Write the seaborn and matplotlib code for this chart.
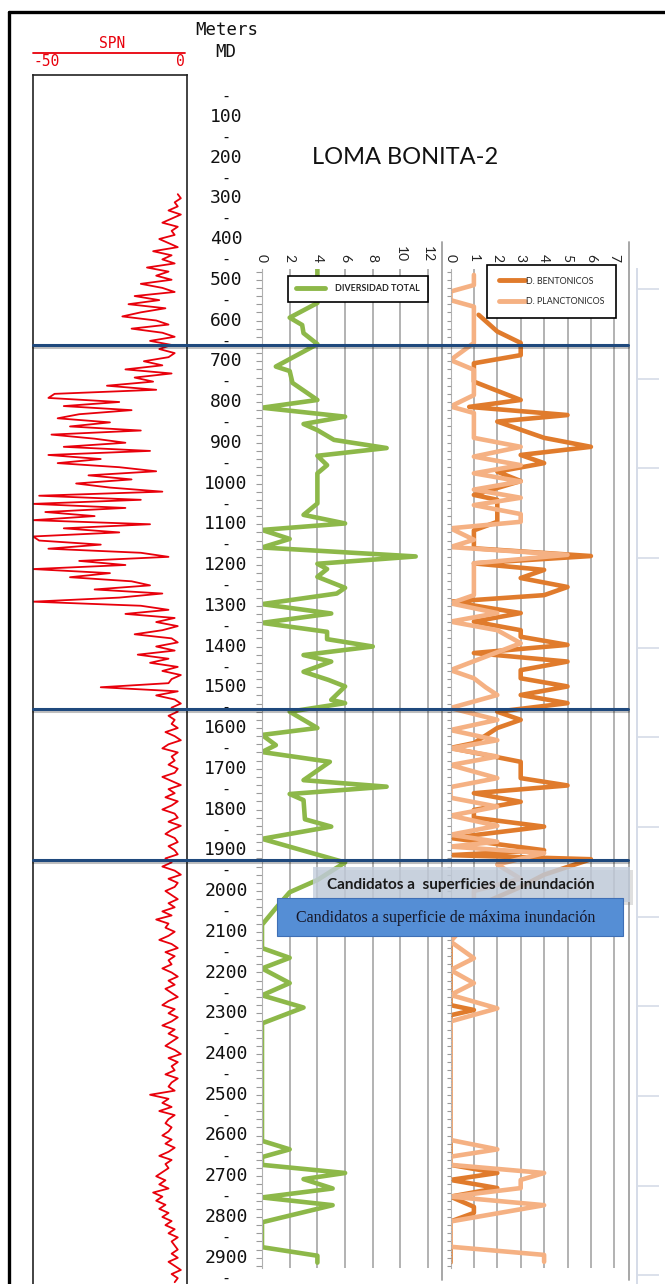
"""Loma Bonita-2 well log: SPN curve, depth track and fossil diversity tracks."""

import numpy as np
import matplotlib
matplotlib.use("Agg")
import matplotlib.pyplot as plt
import seaborn as sns
from matplotlib import transforms
from matplotlib.lines import Line2D
from matplotlib.patches import Rectangle
import matplotlib.patheffects as pe

# ---- figure geometry (pixels of the original panel) ----
W, H = 665, 1284
PX_PER_M = 0.4075     # vertical scale of the depth track
Y_ZERO = 76           # pixel row of 0 m

# ---- data ----
TITLE = "LOMA BONITA-2"
DEPTH_LABELS = list(range(100, 3000, 100))
DASH_DEPTHS = list(range(50, 3000, 100))
FLOOD_SURFACES = [660, 1553, 1924]

SPN_START = 290
SPN_STEP = 10
spn_values = [
    -3, -2, -4, -3, -6, -2, -5, -8, -3, -5,
    -4, -9, -6, -3, -11, -5, -8, -4, -13, -6,
    -10, -5, -15, -8, -4, -17, -9, -19, -7, -15,
    -21, -10, -6, -18, -8, -4, -12, -5, -9, -4,
    -6, -14, -8, -20, -5, -17, -11, -26, -10, -43,
    -45, -22, -40, -18, -35, -42, -25, -38, -15, -44,
    -30, -20, -40, -12, -45, -28, -42, -22, -10, -32,
    -18, -36, -25, -8, -48, -15, -50, -20, -46, -30,
    -50, -12, -40, -22, -50, -48, -28, -45, -15, -6,
    -35, -20, -50, -25, -38, -18, -12, -30, -8, -22,
    -50, -15, -6, -20, -4, -10, -3, -8, -17, -5,
    -3, -10, -4, -16, -6, -12, -3, -8, -2, -5,
    -6, -28, -3, -10, -4, -2, -5, -3, -6, -4,
    -5, -3, -7, -4, -2, -6, -8, -3, -5, -4,
    -6, -3, -4, -8, -5, -2, -6, -4, -7, -3,
    -5, -8, -4, -3, -6, -2, -5, -7, -4, -3,
    -6, -4, -3, -7, -5, -8, -4, -2, -6, -3,
    -4, -7, -5, -3, -6, -4, -8, -5, -10, -6,
    -7, -4, -6, -9, -5, -3, -7, -4, -6, -5,
    -8, -5, -3, -6, -4, -7, -5, -3, -6, -8,
    -4, -6, -3, -5, -8, -4, -6, -3, -5, -7,
    -4, -2, -6, -3, -5, -4, -7, -3, -5, -6,
    -4, -12, -6, -8, -5, -9, -4, -6, -7, -5,
    -6, -8, -5, -7, -4, -6, -9, -5, -7, -6,
    -8, -10, -7, -9, -6, -11, -8, -10, -7, -9,
    -6, -8, -5, -7, -4, -6, -3, -5, -4, -3,
    -5, -3, -6, -4, -2, -5, -3, -4,
]
spn_depth = SPN_START + SPN_STEP * np.arange(len(spn_values))

div_depth = [474, 557, 593, 611, 631, 658, 713, 724, 753, 795,
             814, 836, 854, 869, 893, 913, 932, 955, 975, 1049,
             1077, 1098, 1114, 1136, 1157, 1179, 1197, 1210, 1229, 1256,
             1270, 1296, 1319, 1342, 1364, 1382, 1400, 1421, 1437, 1462,
             1482, 1498, 1531, 1539, 1560, 1600, 1617, 1642, 1659, 1683,
             1728, 1744, 1762, 1777, 1824, 1842, 1872, 1930, 1973, 2003,
             2042, 2083, 2140, 2164, 2190, 2226, 2256, 2286, 2325, 2613,
             2634, 2653, 2672, 2692, 2707, 2730, 2752, 2771, 2813, 2874,
             2895, 2912]
div_value = [4, 4, 2, 2.9, 3, 4, 1, 2, 2.2, 4,
             0, 6, 3, 4, 5.2, 9, 4, 4.7, 4, 4,
             3, 6, 0, 2, 0, 11.1, 4, 4.7, 4, 6,
             5.4, 0, 5, 0, 4.7, 4.7, 8, 3, 5, 3,
             4.8, 6, 5, 6, 2, 4, 0, 1, 0, 4.9,
             3, 9, 2, 3, 3.1, 5, 0, 6, 4, 2,
             1, 0, 0, 2, 0, 2, 0, 3, 0, 0,
             2, 0, 0, 6, 3, 5.1, 0, 5.1, 0, 0,
             4, 4]

bent_depth = [586, 627, 655, 685, 705, 750, 795, 812, 832, 848,
              888, 910, 930, 950, 971, 994, 1028, 1040, 1073, 1094,
              1115, 1159, 1178, 1196, 1212, 1232, 1254, 1274, 1290, 1318,
              1339, 1360, 1376, 1396, 1416, 1437, 1458, 1478, 1498, 1519,
              1539, 1560, 1580, 1600, 1637, 1649, 1683, 1723, 1741, 1760,
              1781, 1801, 1820, 1842, 1870, 1900, 1912, 1922, 1960, 1990,
              2040, 2090, 2280, 2292, 2305, 2611, 2672, 2692, 2709, 2729,
              2750, 2775, 2790, 2811, 2912]
bent_value = [1.2, 2, 3, 3, 1, 1, 3, 0.8, 5, 2,
              4, 6, 3, 4, 2, 3, 1, 2, 2, 2,
              1, 1, 6, 1, 4, 3, 5, 4, 0, 3,
              1, 3, 3, 5, 1, 5, 3, 3, 5, 3,
              5, 2, 3, 2, 1, 0, 3, 3, 5, 1,
              3, 1, 1, 4, 0, 4, 0, 6, 4, 3,
              1, 0, 0, 1, 0, 0, 0, 2, 0, 2,
              0, 1, 1, 0, 0]

planc_depth = [488, 513, 529, 550, 566, 655, 697, 721, 783, 811,
               827, 888, 910, 934, 955, 975, 995, 1015, 1035, 1053,
               1075, 1094, 1110, 1138, 1156, 1175, 1196, 1274, 1294, 1318,
               1339, 1360, 1392, 1458, 1478, 1500, 1519, 1551, 1580, 1605,
               1630, 1650, 1670, 1691, 1723, 1745, 1771, 1793, 1815, 1840,
               1862, 1879, 1891, 1907, 1935, 1970, 2000, 2060, 2124, 2165,
               2194, 2226, 2255, 2288, 2320, 2611, 2634, 2652, 2672, 2692,
               2709, 2729, 2750, 2771, 2811, 2873, 2893, 2910]
planc_value = [1, 1, 0, 0, 1, 1, 0, 1, 1, 0,
               1, 1, 3, 1, 3, 1, 3, 1, 3, 1,
               3, 3, 0, 1, 0, 5, 1, 1, 0, 2,
               0, 2, 3, 0, 1, 1.5, 2, 0, 2, 0,
               2, 0, 2, 0, 2, 0, 0, 2, 0, 2,
               0, 2, 0, 4, 2, 3, 1, 1, 0, 1,
               0, 1, 0, 2, 0, 0, 2, 0, 0, 4,
               3, 3, 0, 4, 0, 0, 4, 4]

# ---- colours ----
RED = "#E8000B"
GREEN = "#8DB849"
DARK_ORANGE = "#E07B2C"
LIGHT_ORANGE = "#F5B183"
NAVY = "#1F497D"
GRID = "#A5A5A5"

sns.set_style("white")
plt.rcParams["font.family"] = ["Lato", "DejaVu Sans"]
MONO = "DejaVu Sans Mono"


def rect(left, top, right, bottom):
    """Axes rectangle in figure fractions from pixel edges."""
    return [left / W, 1 - bottom / H, (right - left) / W, (bottom - top) / H]


def depth_range(top, bottom):
    """Inverted depth limits that keep every track on one depth scale."""
    return ((bottom - Y_ZERO) / PX_PER_M, (top - Y_ZERO) / PX_PER_M)


def fig_xy(x, y):
    return x / W, 1 - y / H


fig = plt.figure(figsize=(W / 100, H / 100), dpi=100)

# ---- SPN track ----
ax_spn = fig.add_axes(rect(33, 75, 187, 1295))
sns.lineplot(x=spn_values, y=spn_depth, sort=False, estimator=None,
             color=RED, lw=1.3, ax=ax_spn)
ax_spn.set_xlim(-50, 0)
ax_spn.set_ylim(*depth_range(75, 1295))
ax_spn.set_xticks([])
ax_spn.set_yticks([])
ax_spn.set_xlabel("")
ax_spn.set_ylabel("")
for sp in ax_spn.spines.values():
    sp.set_color("#222222")
    sp.set_linewidth(1.2)

fig.text(*fig_xy(112, 44), "SPN", color=RED, family=MONO, fontsize=10.5,
         ha="center", va="center")
fig.add_artist(Line2D([33 / W, 185 / W], [1 - 53 / H] * 2, color=RED, lw=1.3))
fig.text(*fig_xy(34, 62), "-50", color=RED, family=MONO, fontsize=10.5,
         ha="left", va="center")
fig.text(*fig_xy(185, 62), "0", color=RED, family=MONO, fontsize=10.5,
         ha="right", va="center")

# ---- depth track ----
ax_depth = fig.add_axes(rect(190, 75, 262, 1295))
ax_depth.set_ylim(*depth_range(75, 1295))
ax_depth.axis("off")
ytrans = ax_depth.get_yaxis_transform()
for d in DEPTH_LABELS:
    ax_depth.text(0.5, d, str(d), transform=ytrans, family=MONO, fontsize=13,
                  ha="center", va="center", color="#111111")
for d in DASH_DEPTHS:
    ax_depth.text(0.5, d, "-", transform=ytrans, family=MONO, fontsize=11,
                  ha="center", va="center", color="#111111")
fig.text(*fig_xy(227, 30), "Meters", family=MONO, fontsize=12.5,
         ha="center", va="center", color="#111111")
fig.text(*fig_xy(226, 52), "MD", family=MONO, fontsize=12.5,
         ha="center", va="center", color="#111111")

fig.text(*fig_xy(405, 157), TITLE, fontsize=17, ha="center", va="center",
         color="#111111")


def style_track(ax, xmax, ticks):
    ax.set_xlim(0, xmax)
    ax.set_ylim(*depth_range(269, 1268))
    ax.set_facecolor("none")
    ax.set_xlabel("")
    ax.set_ylabel("")
    ax.xaxis.set_ticks_position("top")
    ax.set_xticks(ticks)
    ax.set_xticklabels([str(t) for t in ticks], rotation=-90, fontsize=10)
    ax.tick_params(axis="x", length=0, pad=5, colors="#222222")
    ax.grid(axis="x", color=GRID, lw=1.2)
    ax.grid(axis="y", visible=False)
    ax.set_yticks(np.arange(480, 2925, 20))
    ax.set_yticklabels([])
    ax.tick_params(axis="y", left=True, length=4, width=0.8, color="#9A9A9A")
    for name, sp in ax.spines.items():
        sp.set_visible(name == "left")
    ax.spines["left"].set_color("#B0B0B0")
    ax.spines["left"].set_linewidth(0.8)


# ---- total diversity track ----
ax_div = fig.add_axes(rect(262, 269, 442, 1268))
sns.lineplot(x=div_value, y=div_depth, sort=False, estimator=None,
             color=GREEN, lw=3.3, ax=ax_div, legend=False)
style_track(ax_div, 13, list(range(0, 13, 2)))

leg1 = ax_div.legend(handles=[Line2D([], [], color=GREEN, lw=3.5)],
                     labels=["DIVERSIDAD TOTAL"], loc="upper left",
                     bbox_to_anchor=fig_xy(288, 276),
                     bbox_transform=fig.transFigure, frameon=True,
                     fancybox=False, framealpha=1, edgecolor="black",
                     prop={"family": "Lato", "weight": "bold", "size": 6.4},
                     handlelength=3.2, handletextpad=1.1, borderpad=0.95,
                     borderaxespad=0)
leg1.get_frame().set_linewidth(1.2)

# ---- benthic / planktonic track ----
ax_bp = fig.add_axes(rect(450.5, 269, 629, 1268))
sns.lineplot(x=bent_value, y=bent_depth, sort=False, estimator=None,
             color=DARK_ORANGE, lw=3.3, ax=ax_bp, legend=False)
sns.lineplot(x=planc_value, y=planc_depth, sort=False, estimator=None,
             color=LIGHT_ORANGE, lw=3.3, ax=ax_bp, legend=False)
style_track(ax_bp, (629 - 450.5) / 23.4, list(range(0, 8)))
ax_bp.spines["left"].set_linestyle((0, (1, 1.5)))
ax_bp.tick_params(axis="y", length=3)

leg2 = ax_bp.legend(handles=[Line2D([], [], color=DARK_ORANGE, lw=3.5),
                             Line2D([], [], color=LIGHT_ORANGE, lw=3.5)],
                    labels=["D. BENTONICOS", "D. PLANCTONICOS"],
                    loc="upper left", bbox_to_anchor=fig_xy(487, 265),
                    bbox_transform=fig.transFigure, frameon=True,
                    fancybox=False, framealpha=1, edgecolor="black",
                    prop={"family": "Lato", "size": 6.4},
                    handlelength=3.0, handletextpad=0.1, borderpad=1.3,
                    labelspacing=1.3, borderaxespad=0)
leg2.get_frame().set_linewidth(1.2)

# ---- faint chart edge on the right ----
ax_edge = fig.add_axes(rect(637, 269, 665, 1295))
ax_edge.set_ylim(*depth_range(269, 1295))
ax_edge.set_facecolor("none")
ax_edge.set_xticks([])
ax_edge.set_yticks(np.arange(523, 2964, 220))
ax_edge.set_yticklabels([])
ax_edge.tick_params(axis="y", left=True, direction="in", length=16,
                    width=1.2, color="#D5DCE8")
for name, sp in ax_edge.spines.items():
    sp.set_visible(name == "left")
ax_edge.spines["left"].set_color("#D5DCE8")
ax_edge.spines["left"].set_linewidth(1.4)

# ---- separators and outer frame ----
for x in (442, 629):
    fig.add_artist(Line2D([x / W] * 2, [1 - 242 / H, 1 - 1280 / H],
                          color="#A0A0A0", lw=1.3))
fig.add_artist(Line2D([9 / W, 9 / W], [1 - 12 / H, 0], color="black", lw=2.4))
fig.add_artist(Line2D([9 / W, 1], [1 - 12 / H] * 2, color="black", lw=2.4))

# ---- flooding surfaces ----
surf_trans = transforms.blended_transform_factory(fig.transFigure, ax_spn.transData)
for d in FLOOD_SURFACES:
    fig.add_artist(Line2D([33 / W, 628 / W], [d, d], transform=surf_trans,
                          color=NAVY, lw=2.2, zorder=3,
                          path_effects=[pe.SimpleLineShadow(offset=(0, -1.5),
                                                            alpha=0.25),
                                        pe.Normal()]))

# ---- annotation boxes ----
fig.add_artist(Rectangle(fig_xy(316, 905), 317 / W, 35 / H,
                         transform=fig.transFigure, facecolor="#808080",
                         alpha=0.25, edgecolor="none", zorder=4))
fig.add_artist(Rectangle(fig_xy(313, 902), 317 / W, 35 / H,
                         transform=fig.transFigure, facecolor="#C3CEDD",
                         alpha=0.8, edgecolor="none", zorder=4))
fig.text(*fig_xy(327, 885), "Candidatos a  superficies de inundación",
         fontsize=11, weight="bold", ha="left", va="center",
         color="#1A1A1A", zorder=5)
fig.add_artist(Rectangle(fig_xy(277, 936), 346 / W, 38 / H,
                         transform=fig.transFigure, facecolor="#558ED5",
                         edgecolor="#3F6FB5", lw=0.8, zorder=6))
fig.text(*fig_xy(296, 918), "Candidatos a superficie de máxima inundación",
         family="Liberation Serif", fontsize=11.5, ha="left", va="center",
         color="#161626", zorder=7)

fig.savefig("out.png", dpi=100)
